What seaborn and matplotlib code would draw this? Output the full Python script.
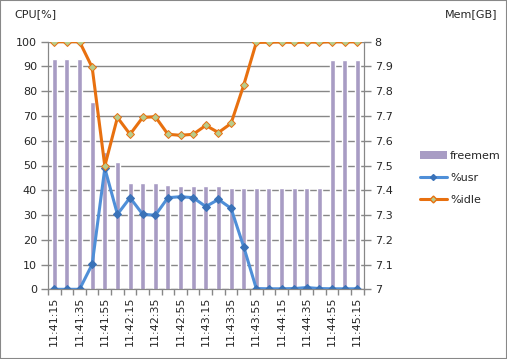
import numpy as np
import pandas as pd
import matplotlib
matplotlib.use("Agg")
import matplotlib.pyplot as plt
import seaborn as sns
from matplotlib.patches import Patch, Rectangle
from matplotlib.lines import Line2D

# data (10 s steps)
times = ["11:41:15", "11:41:25", "11:41:35", "11:41:45", "11:41:55", "11:42:05",
         "11:42:15", "11:42:25", "11:42:35", "11:42:45", "11:42:55", "11:43:05",
         "11:43:15", "11:43:25", "11:43:35", "11:43:45", "11:43:55", "11:44:05",
         "11:44:15", "11:44:25", "11:44:35", "11:44:45", "11:44:55", "11:45:05",
         "11:45:15"]
freemem = [7.930, 7.930, 7.930, 7.758, 7.553, 7.514, 7.429, 7.429, 7.429, 7.421,
           7.417, 7.417, 7.417, 7.417, 7.408, 7.408, 7.408, 7.408, 7.408, 7.408,
           7.408, 7.408, 7.926, 7.926, 7.926]
usr = [0, 0, 0, 10.1, 48.9, 30.3, 37.0, 30.3, 29.9, 37.0, 37.4, 37.0, 33.4, 36.3,
       32.7, 17.2, 0.3, 0.2, 0.2, 0.3, 0.7, 0.3, 0.2, 0.2, 0.2]
idle = [100, 100, 100, 89.6, 49.8, 69.4, 62.6, 69.4, 69.7, 62.6, 62.2, 62.6, 66.2,
        63.3, 67.0, 82.4, 99.7, 99.8, 99.9, 99.7, 99.9, 99.8, 100, 99.9, 100]

BAR = "#A89CC4"
BLUE = "#4F8FD8"
BLUE_DARK = "#3A72B8"
ORANGE = "#E8700F"
GREEN = "#B8CC8C"
GRID = "#878787"

sns.set_style("white")
plt.rcParams["font.family"] = ["DejaVu Sans"]
plt.rcParams["font.size"] = 8

df = pd.DataFrame({"time": times, "freemem": freemem, "usr": usr, "idle": idle})
idx = np.arange(len(times))

fig = plt.figure(figsize=(5.07, 3.59), dpi=100)
ax = fig.add_axes([48 / 507, 69.7 / 359, 315.6 / 507, 247.6 / 359])

# bars on the memory scale
sns.barplot(data=df, x="time", y="freemem", ax=ax, color=BAR, saturation=1,
            width=0.4, zorder=2)
ax.set_ylim(7, 8)
ax.set_xlim(-0.5, len(times) - 0.5)
ax.set_yticks(np.round(np.arange(7, 8.01, 0.1), 1))
ax.set_yticklabels(["7"] + [f"{v:.1f}" for v in np.arange(7.1, 7.95, 0.1)] + ["8"])
ax.grid(axis="y", color=GRID, lw=1)
ax.set_axisbelow(True)
ax.set_xlabel("")
ax.set_ylabel("")

# cpu lines on top
ax2 = ax.twinx()
sns.lineplot(x=idx, y=df["usr"], ax=ax2, color=BLUE, lw=2.2, marker="D",
             markersize=4, markerfacecolor=BLUE_DARK, markeredgecolor=BLUE_DARK)
sns.lineplot(x=idx, y=df["idle"], ax=ax2, color=ORANGE, lw=2.2, marker="D",
             markersize=4.5, markerfacecolor=GREEN, markeredgecolor=ORANGE,
             markeredgewidth=0.7)
ax2.set_ylim(0, 100)
ax2.set_yticks(range(0, 101, 10))
ax2.set_xlim(-0.5, len(times) - 0.5)
ax2.set_ylabel("")

# swap sides: memory on the right, cpu on the left
ax.yaxis.tick_right()
ax2.yaxis.tick_left()

for a in (ax, ax2):
    for s in a.spines.values():
        s.set_color(GRID)
    a.spines["top"].set_visible(False)
    a.tick_params(axis="y", length=5, color=GRID, width=1, pad=3, labelsize=8)

# x axis: boundary ticks, labels every other point
ax.set_xticks(idx[::2])
ax.set_xticklabels(times[::2], rotation=90)
ax.set_xticks(np.arange(-0.5, len(times), 1), minor=True)
ax.tick_params(axis="x", which="major", length=0, pad=5, labelsize=8)
ax.tick_params(axis="x", which="minor", length=4, color=GRID, width=1, bottom=True)
ax2.tick_params(axis="x", bottom=False, labelbottom=False)

fig.text(14 / 507, 1 - 14 / 359, "CPU[%]", ha="left", va="center", fontsize=8)
fig.text(445 / 507, 1 - 14 / 359, "Mem[GB]", ha="left", va="center", fontsize=8)

handles = [
    Patch(facecolor=BAR, edgecolor="none"),
    Line2D([], [], color=BLUE, lw=2.2, marker="D", markersize=3,
           markerfacecolor=BLUE_DARK, markeredgecolor=BLUE_DARK),
    Line2D([], [], color=ORANGE, lw=2.2, marker="D", markersize=3.5,
           markerfacecolor=GREEN, markeredgecolor=ORANGE),
]
fig.legend(handles, ["freemem", "%usr", "%idle"], loc="center left",
           bbox_to_anchor=(410 / 507, 1 - 178 / 359), frameon=False,
           fontsize=8, handlelength=2.4, handletextpad=0.3, labelspacing=1.1)

fig.add_artist(Rectangle((0, 0), 1, 1, transform=fig.transFigure, fill=False,
                         edgecolor="#888888", lw=1.5))

fig.savefig("out.png", dpi=100)
